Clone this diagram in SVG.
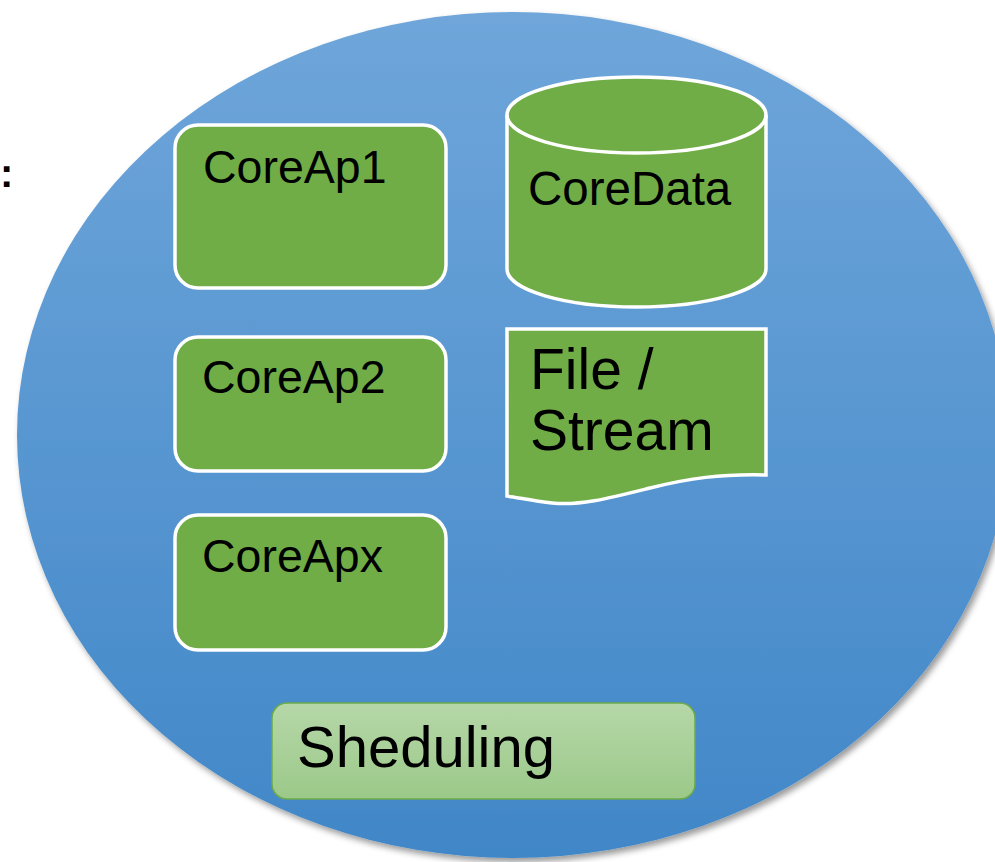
<svg xmlns="http://www.w3.org/2000/svg" width="995" height="862" viewBox="0 0 995 862">
  <style>
    .lbl { font-family: "Liberation Sans", Arial, sans-serif; fill: #000000; }
    .green { fill: #70AD47; stroke: #FFFFFF; stroke-width: 3.5; }
  </style>
  <defs>
    <linearGradient id="blueFill" x1="0" y1="0" x2="0" y2="1">
      <stop offset="0" stop-color="#6FA6DA"/>
      <stop offset="1" stop-color="#4187C8"/>
    </linearGradient>
    <linearGradient id="lightGreen" x1="0" y1="0" x2="0" y2="1">
      <stop offset="0" stop-color="#B6D7A8"/>
      <stop offset="1" stop-color="#9BC989"/>
    </linearGradient>
    <filter id="softShadow" x="-10%" y="-10%" width="120%" height="120%">
      <feGaussianBlur in="SourceAlpha" stdDeviation="3"/>
      <feOffset dx="3" dy="4" result="blur"/>
      <feFlood flood-color="#000000" flood-opacity="0.4"/>
      <feComposite in2="blur" operator="in"/>
      <feMerge>
        <feMergeNode/>
        <feMergeNode in="SourceGraphic"/>
      </feMerge>
    </filter>
  </defs>

  <rect width="995" height="862" fill="#FFFFFF"/>

  <!-- colon at the left margin -->
  <text class="lbl" x="0" y="187" font-size="40" font-weight="bold">:</text>

  <!-- system boundary -->
  <g id="system">
    <ellipse cx="513" cy="435" rx="496" ry="423" fill="url(#blueFill)" filter="url(#softShadow)"/>
  </g>

  <g id="coreap1">
    <rect class="green" x="175" y="125" width="271" height="163" rx="23"/>
    <text class="lbl" x="203" y="183" font-size="46.5">CoreAp1</text>
  </g>

  <g id="coreap2">
    <rect class="green" x="175" y="337" width="271" height="134" rx="23"/>
    <text class="lbl" x="202" y="393" font-size="46.5">CoreAp2</text>
  </g>

  <g id="coreapx">
    <rect class="green" x="175" y="515" width="271" height="135" rx="23"/>
    <text class="lbl" x="202" y="572" font-size="46.5">CoreApx</text>
  </g>

  <g id="coredata">
    <path class="green" d="M507,115 A129.5,38 0 0 1 766,115 V269 A129.5,38 0 0 1 507,269 Z"/>
    <path d="M507,115 A129.5,38 0 0 0 766,115" fill="none" stroke="#FFFFFF" stroke-width="3.5"/>
    <text class="lbl" x="528" y="205" font-size="47.5">CoreData</text>
  </g>

  <g id="filestream">
    <path class="green" d="M507,329 H766 V475 C720,474 690,478 650,488 C610,498 580,506 552,503 C535,501 520,498 507,496 Z"/>
    <text class="lbl" x="530" y="389" font-size="57">File /</text>
    <text class="lbl" x="530" y="450" font-size="57">Stream</text>
  </g>

  <g id="scheduling">
    <rect x="272" y="703" width="423" height="96" rx="15" fill="url(#lightGreen)" stroke="#6BAA4B" stroke-width="1.5"/>
    <text class="lbl" x="297" y="767" font-size="58">Sheduling</text>
  </g>

  <g id="connectors"></g>
</svg>
